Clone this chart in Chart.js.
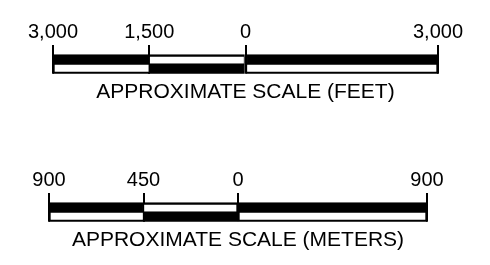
<!DOCTYPE html>
<html>
<head>
<meta charset="utf-8">
<script src="https://cdn.jsdelivr.net/npm/chart.js@4/dist/chart.umd.min.js"></script>
<style>
  html, body { margin: 0; padding: 0; background: #fff; }
  canvas { display: block; }
  #meters { margin-top: 43px; }
</style>
</head>
<body>
<canvas id="feet" width="490" height="105"></canvas>
<canvas id="meters" width="490" height="105"></canvas>
<script>
// Scale bar data: left half counts down to 0, right half counts up
const rows = ['upper', 'lower'];

const feetTicks = [-3000, -1500, 0, 3000];
const feetTickLabels = ['3,000', '1,500', '0', '3,000'];
const feetSegments = [[-3000, -1500], [-1500, 0], [0, 3000]];

const meterTicks = [-900, -450, 0, 900];
const meterTickLabels = ['900', '450', '0', '900'];
const meterSegments = [[-900, -450], [-450, 0], [0, 900]];

// alternating fill per row and segment
const upperFill = ['#000', '#fff', '#000'];
const lowerFill = ['#fff', '#000', '#fff'];

const FONT = '"Liberation Sans", Arial, sans-serif';

function makeScaleBar(id, ticks, tickLabels, segments, title, padLeft, padRight) {
    const datasets = segments.map((seg, i) => ({
        data: rows.map(r => ({ x: seg.slice(), y: r })),
        backgroundColor: [upperFill[i], lowerFill[i]],
        borderColor: '#000',
        borderSkipped: false,
        borderWidth: ctx => ({
            top: ctx.dataIndex === 0 ? 2.5 : 1,
            bottom: ctx.dataIndex === 0 ? 1 : 2.5,
            left: i === 0 ? 2 : 1,
            right: i === segments.length - 1 ? 2 : 1
        }),
        grouped: false,
        barPercentage: 1,
        categoryPercentage: 1
    }));

    return new Chart(document.getElementById(id), {
        type: 'bar',
        data: { datasets: datasets },
        options: {
            indexAxis: 'y',
            responsive: false,
            animation: false,
            events: [],
            layout: { padding: { left: padLeft, right: padRight, top: 0, bottom: 0 } },
            plugins: {
                legend: { display: false },
                tooltip: { enabled: false },
                title: {
                    display: true,
                    position: 'bottom',
                    fullSize: false,
                    text: title,
                    color: '#000',
                    font: { family: FONT, size: 21, weight: 'normal' },
                    padding: { top: 6, bottom: 0 }
                }
            },
            scales: {
                x: {
                    type: 'linear',
                    position: 'top',
                    min: ticks[0],
                    max: ticks[ticks.length - 1],
                    afterBuildTicks: scale => {
                        scale.ticks = ticks.map(v => ({ value: v }));
                    },
                    afterFit: scale => { scale.height = 45; },
                    border: { display: false },
                    // grid lines run behind the bar, so only the part above it shows as tick marks
                    grid: {
                        display: true,
                        drawOnChartArea: true,
                        drawTicks: false,
                        color: '#000',
                        lineWidth: 2
                    },
                    ticks: {
                        autoSkip: false,
                        maxRotation: 0,
                        padding: 1,
                        color: '#000',
                        font: { family: FONT, size: 20 },
                        callback: (value, index) => tickLabels[index]
                    }
                },
                y: {
                    type: 'category',
                    labels: [''].concat(rows),
                    display: false
                }
            }
        }
    });
}

makeScaleBar('feet', feetTicks, feetTickLabels, feetSegments, 'APPROXIMATE SCALE (FEET)', 53, 52);
makeScaleBar('meters', meterTicks, meterTickLabels, meterSegments, 'APPROXIMATE SCALE (METERS)', 49, 63);
</script>
</body>
</html>
